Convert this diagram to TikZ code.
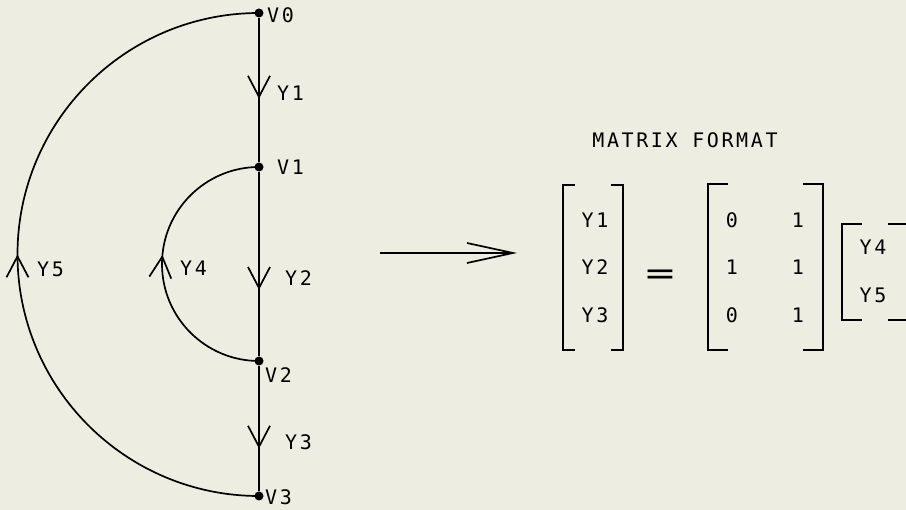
\documentclass[tikz,border=0pt]{standalone}
\usepackage{graphicx}
\usepackage{fontspec}
\newfontfamily\plotfont[LetterSpace=13]{DejaVu Sans Mono}
\usetikzlibrary{arrows.meta,decorations.markings}
\definecolor{paper}{RGB}{238,237,226}
\tikzset{
  wire/.style      = {line width=1.7pt},
  node dot/.style  = {circle, fill=black, inner sep=0pt, minimum size=9pt},
  lbl/.style       = {font=\plotfont\fontsize{20}{23}\selectfont, inner sep=0pt, anchor=west},
  entry/.style     = {font=\plotfont\fontsize{20}{23}\selectfont, inner sep=0pt},
  matbox/.style    = {inner sep=0pt},
  flow/.style      = {postaction={decorate, decoration={markings,
                      mark=at position #1 with {\arrow{Straight Barb[length=21pt,width=22pt,line width=1.7pt]}}}}},
  big arrow/.style = {-{Straight Barb[length=46pt,width=20pt]}, line width=1.7pt},
}
\newcommand{\matbrackets}[2]{%
  \draw[wire] ([xshift=#2]#1.north west) -- (#1.north west) -- (#1.south west) -- ([xshift=#2]#1.south west);
  \draw[wire] ([xshift=-#2]#1.north east) -- (#1.north east) -- (#1.south east) -- ([xshift=-#2]#1.south east);}

\begin{document}
\begin{tikzpicture}[x=1pt,y=-1pt]
  \fill[paper] (0,0) rectangle (906,510);
  \useasboundingbox (0,0) rectangle (906,510);

  % the graph
  \node[node dot] (v0) at (259,13) {};
  \node[node dot] (v1) at (259,167) {};
  \node[node dot] (v2) at (259,361) {};
  \node[node dot] (v3) at (259,496) {};
  \node[lbl] (lv0) at (267,15) {V0};
  \node[lbl] (lv1) at (277,167) {V1};
  \node[lbl] (lv2) at (265,375) {V2};
  \node[lbl] (lv3) at (265,497) {V3};

  \draw[wire,flow=0.56] (v0) -- (v1);
  \draw[wire,flow=0.64] (v1) -- (v2);
  \draw[wire,flow=0.66] (v2) -- (v3);
  \draw[wire,flow=0.5] (v3.center) arc[start angle=270,end angle=90,radius=241.5pt];
  \draw[wire,flow=0.53] (v2.center) arc[start angle=270,end angle=90,radius=97pt];

  \node[lbl] (ly1) at (277,93) {Y1};
  \node[lbl] (ly2) at (285,278) {Y2};
  \node[lbl] (ly3) at (285,442) {Y3};
  \node[lbl] (ly4) at (180,268) {Y4};
  \node[lbl] (ly5) at (37,269) {Y5};

  \coordinate (a1) at (380,253);
  \coordinate (a2) at (517,253);
  \draw[big arrow] (a1) -- (a2);

  % matrix form
  \node[entry] (title) at (685,140) {MATRIX FORMAT};

  \node[matbox,minimum width=60pt,minimum height=165pt] (lhs) at (593,267.5) {};
  \matbrackets{lhs}{12pt}
  \node[entry] (y1) at (595,220) {Y1};
  \node[entry] (y2) at (595,267) {Y2};
  \node[entry] (y3) at (595,315) {Y3};

  \node[entry] (eq) at (660,277) {\scalebox{2.4}[1.6]{=}};

  \node[matbox,minimum width=115pt,minimum height=166pt] (mid) at (765.5,267) {};
  \matbrackets{mid}{20pt}
  \node[entry] (m11) at (732,220) {0};
  \node[entry] (m12) at (798,220) {1};
  \node[entry] (m21) at (732,267) {1};
  \node[entry] (m22) at (798,267) {1};
  \node[entry] (m31) at (732,315) {0};
  \node[entry] (m32) at (798,315) {1};

  \node[matbox,minimum width=66pt,minimum height=96pt] (rhs) at (875,272) {};
  \matbrackets{rhs}{20pt}
  \node[entry] (y4) at (873,247) {Y4};
  \node[entry] (y5) at (873,295) {Y5};
\end{tikzpicture}
\end{document}
